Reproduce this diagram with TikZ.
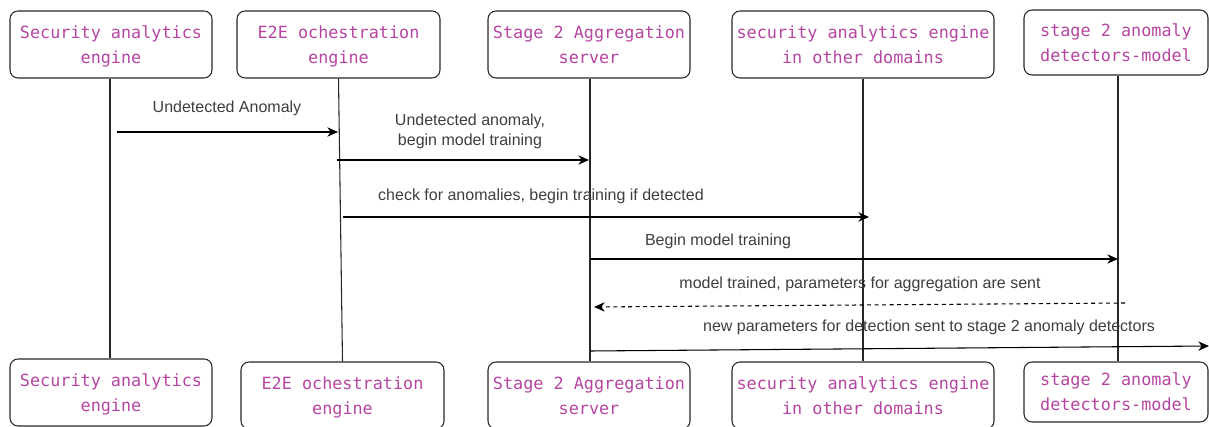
\documentclass[tikz,border=0pt]{standalone}
\usepackage{fontspec}
\setmainfont{Liberation Sans}
\newfontfamily\boxfont{DejaVu Sans Mono}
\usetikzlibrary{arrows.meta}
\definecolor{boxtext}{RGB}{181,69,160}
\definecolor{msgtext}{RGB}{62,62,62}
\begin{document}
\begin{tikzpicture}[x=0.75pt,y=-0.75pt,
  actor/.style={draw=black!85, line width=0.8pt, rounded corners=6pt, align=center,
    inner sep=0pt, text=boxtext, minimum height=50.25pt, text depth=0pt,
    font=\boxfont\fontsize{12.6}{18.75}\selectfont},
  lifeline/.style={draw=black!85, line width=0.8pt},
  msg/.style={draw=black, line width=0.8pt, -{Stealth[length=8pt,width=7pt,inset=2.5pt]}},
  reply/.style={msg, dash pattern=on 3pt off 2.6pt},
  msglabel/.style={text=msgtext, font=\fontsize{12}{15}\selectfont, align=center, inner sep=0pt}]
\useasboundingbox (0,0) rectangle (1209,427);

% participants, top row
\node[actor, minimum width=151.5pt]  (t1) at (111,44.5)  {Security analytics\\engine};
\node[actor, minimum width=152.25pt] (t2) at (338.5,44.5) {E2E ochestration\\engine};
\node[actor, minimum width=151.5pt]  (t3) at (589,44.5)  {Stage 2 Aggregation\\server};
\node[actor, minimum width=196.5pt]  (t4) at (863,44.5)  {security analytics engine\\in other domains};
\node[actor, minimum width=138pt, minimum height=48.75pt] (t5) at (1116,42.5) {stage 2 anomaly\\detectors-model};

% participants, bottom row
\node[actor, minimum width=151.5pt]  (b1) at (111,392.5)  {Security analytics\\engine};
\node[actor, minimum width=152.25pt] (b2) at (342.5,395.5) {E2E ochestration\\engine};
\node[actor, minimum width=151.5pt]  (b3) at (589,395.5)  {Stage 2 Aggregation\\server};
\node[actor, minimum width=196.5pt]  (b4) at (863,395.5)  {security analytics engine\\in other domains};
\node[actor, minimum width=138pt, minimum height=45pt] (b5) at (1116,392) {stage 2 anomaly\\detectors-model};

% lifelines
\draw[lifeline] ([xshift=-0.75pt]t1.south) -- ([xshift=-0.75pt]b1.north);
\draw[lifeline] (t2.south) -- (b2.north);
\draw[lifeline] ([xshift=0.75pt]t3.south) -- ([xshift=0.75pt]b3.north);
\draw[lifeline] (t4.south) -- (b4.north);
\draw[lifeline] ([xshift=1.5pt]t5.south) -- ([xshift=1.5pt]b5.north);

% message end points
\coordinate (m1s) at (117,132);  \coordinate (m1e) at (338,132);
\coordinate (m2s) at (337,160);  \coordinate (m2e) at (589,160);
\coordinate (m3s) at (343,217);  \coordinate (m3e) at (869,217);
\coordinate (m4s) at (590,259);  \coordinate (m4e) at (1118,259);
\coordinate (m5s) at (1125,303); \coordinate (m5e) at (594,307);
\coordinate (m6s) at (590,351);  \coordinate (m6e) at (1209,346);

% messages
\draw[msg] (m1s) -- (m1e);
\draw[msg] (m2s) -- (m2e);
\draw[msg] (m3s) -- (m3e);
\draw[msg] (m4s) -- (m4e);
\draw[reply] (m5s) -- (m5e);
\draw[msg] (m6s) -- (m6e);

% message labels
\node[msglabel] (l1) at (227,108) {Undetected Anomaly};
\node[msglabel] (l2) at (470,131) {Undetected anomaly,\\ begin model training};
\node[msglabel] (l3) at (541,196) {check for anomalies, begin training if detected};
\node[msglabel] (l4) at (718,241) {Begin model training};
\node[msglabel] (l5) at (860,284) {model trained, parameters for aggregation are sent};
\node[msglabel] (l6) at (929,327) {new parameters for detection sent to stage 2 anomaly detectors};
\end{tikzpicture}
\end{document}
